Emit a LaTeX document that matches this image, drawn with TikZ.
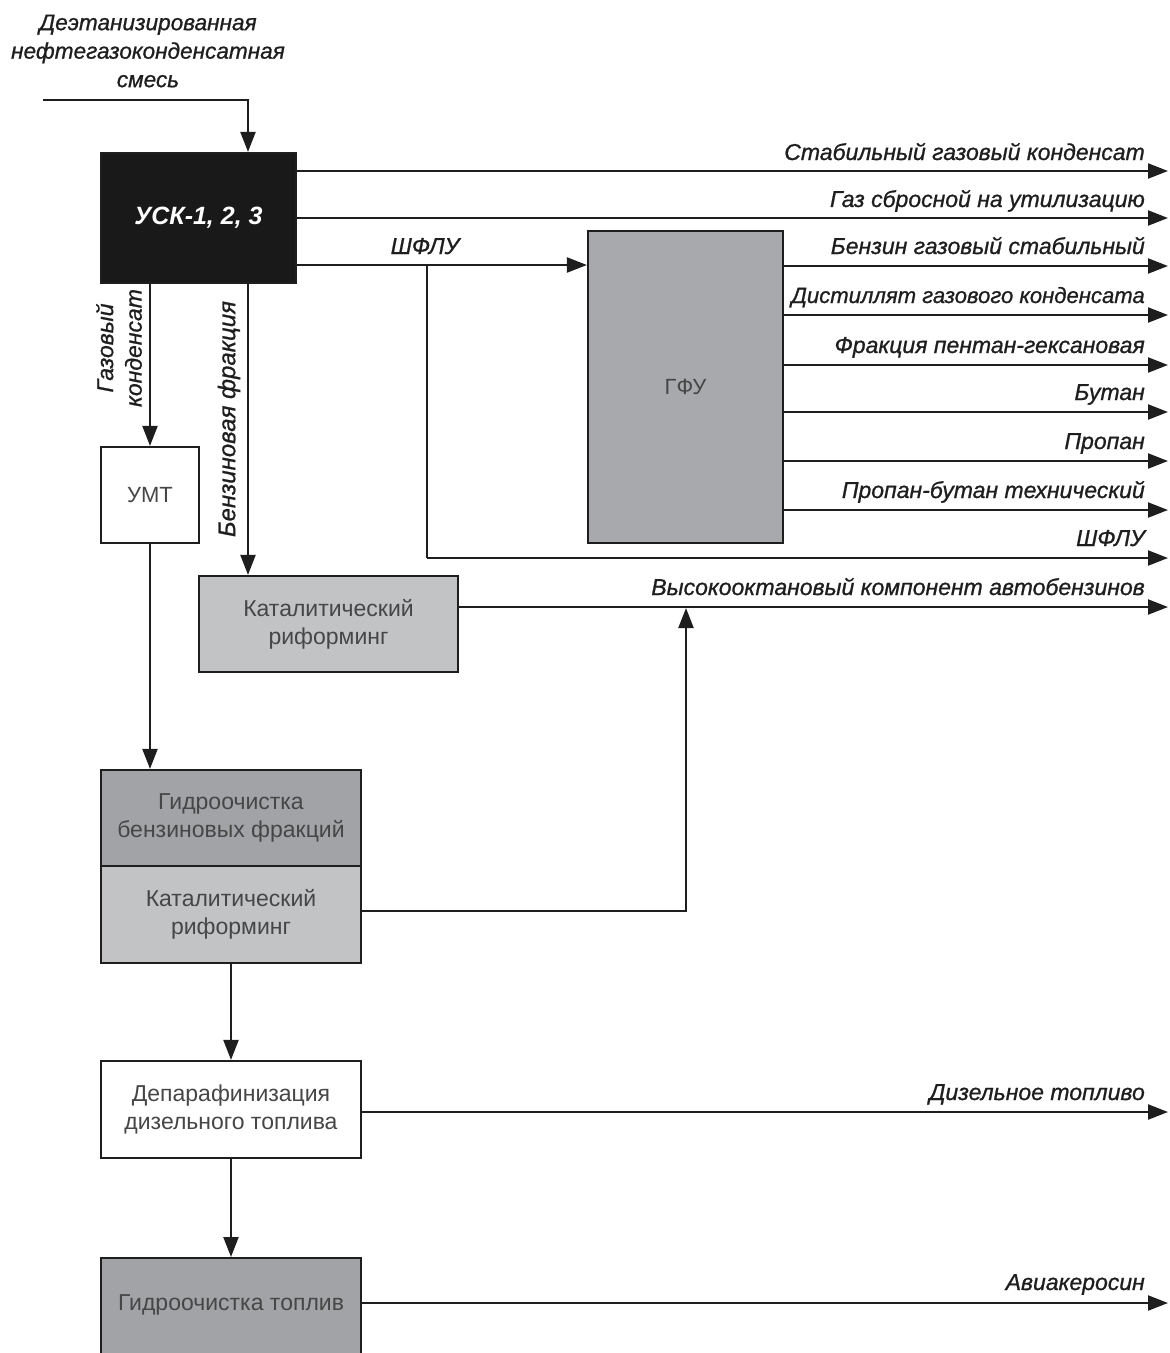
\documentclass[tikz,border=0pt]{standalone}
\usepackage{fontspec}
\setmainfont{Liberation Sans}
\newfontfamily\labfont[FakeBold=0.9]{Liberation Sans}
\usetikzlibrary{arrows.meta,calc}
\definecolor{gfugray}{RGB}{168,169,172}
\definecolor{lightgray}{RGB}{194,195,197}
\definecolor{darkgray}{RGB}{162,163,166}
\definecolor{boxtext}{RGB}{70,70,70}
\definecolor{linec}{RGB}{30,30,30}
\tikzset{
 box/.style={draw=linec, line width=2.2pt, inner sep=0pt, font=\fontsize{23}{28}\selectfont, text=boxtext, align=center},
 flow/.style={line width=2.2pt, draw=linec},
 arr/.style={flow, -{Triangle[length=20pt,width=15pt]}},
 lab/.style={font=\labfont\fontsize{23}{28.5}\selectfont\itshape, text=linec, inner sep=0pt},
}
\begin{document}
\begin{tikzpicture}[x=1pt,y=-1pt]
\useasboundingbox (0,0) rectangle (1170,1353);
% columns
\coordinate (cB) at (248,0);
\coordinate (cC) at (427,0);
\coordinate (cD) at (686,0);
% nodes
\node[box, fill=black!90, text=white, font=\fontsize{25}{28}\selectfont\bfseries\itshape, minimum width=195pt, minimum height=130pt] (usk) at (198.5,218) {УСК-1, 2, 3};
\node[box, fill=gfugray, font=\fontsize{22}{28}\selectfont, minimum width=195pt, minimum height=312pt] (gfu) at (685.5,387) {ГФУ};
\node[box, fill=white, font=\fontsize{22}{28}\selectfont, minimum width=98pt, minimum height=96pt] (umt) at (150,495) {УМТ};
\node[box, fill=lightgray, minimum width=259pt, minimum height=96pt] (kat1) at (328.5,624) {Каталитический\\риформинг};
\node[box, fill=darkgray, minimum width=260pt, minimum height=96pt] (hyd) at (231,818) {Гидроочистка\\бензиновых фракций};
\node[box, fill=lightgray, minimum width=260pt, minimum height=97pt] (kat2) at (231,914.5) {Каталитический\\риформинг};
\node[box, fill=white, minimum width=260pt, minimum height=97pt] (dep) at (231,1109.5) {Депарафинизация\\дизельного топлива};
\node[box, fill=darkgray, minimum width=260pt, minimum height=100pt, anchor=north] (hf) at (231,1257) {};
\node[font=\fontsize{23}{28}\selectfont, text=boxtext] (hft) at (231,1305) {Гидроочистка топлив};
% input
\node[lab, align=center, font=\labfont\fontsize{22.6}{28.5}\selectfont\itshape] (inl) at (148,51) {Деэтанизированная\\нефтегазоконденсатная\\смесь};
\coordinate (in) at (43,100);
\draw[arr] (in) -| (usk.north -| cB);
% end points
\coordinate (e1) at (1168,171);
\coordinate (e2) at (1168,218);
\coordinate (g1) at (1168,266);
\coordinate (g2) at (1168,315);
\coordinate (g3) at (1168,365);
\coordinate (g4) at (1168,412);
\coordinate (g5) at (1168,461);
\coordinate (g6) at (1168,510);
\coordinate (g7) at (1168,558);
\coordinate (h1) at (1168,607);
\coordinate (d1) at (1168,1112);
\coordinate (d2) at (1168,1303);
% USK outputs
\draw[arr] (usk.east |- e1) -- (e1);
\draw[arr] (usk.east |- e2) -- (e2);
\draw[arr] (usk.east |- 0,265) -- (gfu.west |- 0,265);
\draw[flow] (cC |- 0,265) -- (cC |- g7);
\draw[arr] (cC |- g7) -- (g7);
% GFU outputs
\foreach \g in {g1,g2,g3,g4,g5,g6}{\draw[arr] (gfu.east |- \g) -- (\g);}
% downward
\draw[arr] (usk.south -| umt.north) -- (umt.north);
\draw[arr] (usk.south -| cB) -- (kat1.north -| cB);
\draw[arr] (kat1.east |- h1) -- (h1);
\draw[arr] (kat2.east |- 0,911) -| (cD |- 0,608);
\draw[arr] (umt.south) -- (umt.south |- hyd.north);
\draw[arr] (kat2.south) -- (dep.north);
\draw[arr] (dep.south) -- (hf.north);
\draw[arr] (dep.east |- d1) -- (d1);
\draw[arr] (hf.east |- d2) -- (d2);
% labels
\node[lab, anchor=base east] (l1) at (1145,160) {Стабильный газовый конденсат};
\node[lab, anchor=base east] (l2) at (1145,207) {Газ сбросной на утилизацию};
\node[lab, anchor=base east] (l3) at (1145,254) {Бензин газовый стабильный};
\node[lab, anchor=base east, font=\labfont\fontsize{22.1}{28}\selectfont\itshape] (l4) at (1145,303) {Дистиллят газового конденсата};
\node[lab, anchor=base east] (l5) at (1145,353) {Фракция пентан-гексановая};
\node[lab, anchor=base east] (l6) at (1145,400) {Бутан};
\node[lab, anchor=base east] (l7) at (1145,449) {Пропан};
\node[lab, anchor=base east] (l8) at (1145,498) {Пропан-бутан технический};
\node[lab, anchor=base east] (l9) at (1145,546) {ШФЛУ};
\node[lab, anchor=base east] (l10) at (1145,595) {Высокооктановый компонент автобензинов};
\node[lab, anchor=base east] (l11) at (1145,1100) {Дизельное топливо};
\node[lab, anchor=base east] (l12) at (1145,1290) {Авиакеросин};
\node[lab, anchor=base] (l13) at (425,254) {ШФЛУ};
\node[lab, rotate=90, align=center] (l14) at (119,348) {Газовый\\конденсат};
\node[lab, rotate=90, font=\labfont\fontsize{24}{28}\selectfont\itshape] (l15) at (229,419) {Бензиновая фракция};
\end{tikzpicture}
\end{document}
